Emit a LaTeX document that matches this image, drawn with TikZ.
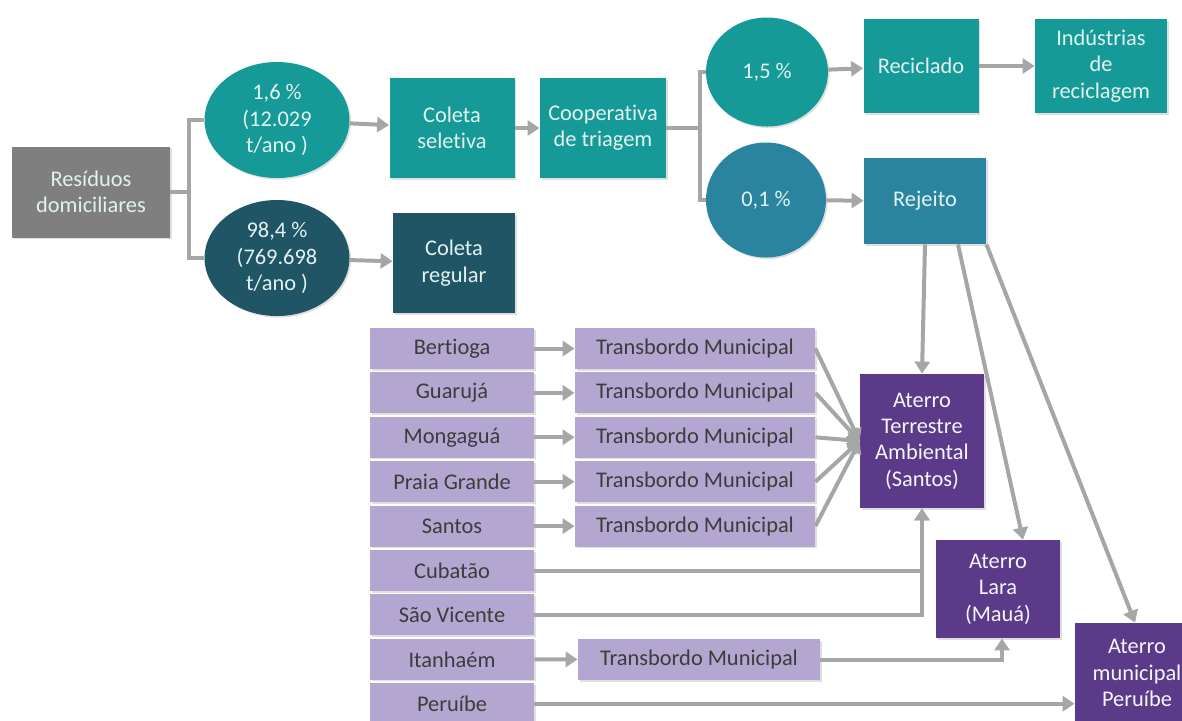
\documentclass[tikz,border=0pt]{standalone}
\usepackage{fontspec}
\setmainfont{Carlito}[Ligatures=NoCommon]
\usetikzlibrary{arrows.meta, shapes.geometric, shadows, calc}

\definecolor{cinza}{HTML}{7F7F7F}
\definecolor{verde}{HTML}{169A97}
\definecolor{petroleo}{HTML}{1F5565}
\definecolor{azul}{HTML}{2A84A0}
\definecolor{lilas}{HTML}{B3A7D1}
\definecolor{roxo}{HTML}{5B3A8A}
\definecolor{cseta}{HTML}{A6A6A6}
\definecolor{claro}{HTML}{E2F2F1}
\definecolor{escuro}{HTML}{3C3C3C}

\begin{document}
\begin{tikzpicture}[x=0.5pt, y=-0.5pt,
    every node/.style={align=center, inner sep=1pt, font=\fontsize{11.2}{13.2}\selectfont},
    sombra/.style={drop shadow={shadow xshift=0.8pt, shadow yshift=-0.8pt, opacity=0.25}},
    bloco/.style={rectangle, sombra, text=claro},
    bolha/.style={ellipse, sombra, text=claro, minimum width=72.5pt, minimum height=58pt, inner sep=0pt},
    cidade/.style={rectangle, sombra, fill=lilas, text=escuro, minimum width=82pt, minimum height=20.5pt},
    aterro/.style={rectangle, sombra, fill=roxo, text=white!88!lilas, minimum width=62pt},
    liga/.style={draw=cseta, line width=2pt},
    seta/.style={liga, -{Triangle[length=6pt, width=7.5pt]}}]
  \clip (0,0) rectangle (1182,720);

  % coleta
  \node[bloco, fill=cinza, minimum width=79pt, minimum height=45.5pt] (res) at (91,192) {Resíduos\\domiciliares};
  \node[bolha, fill=verde] (p16) at (277,120) {1,6 \%\\(12.029\\t/ano )};
  \node[bolha, fill=petroleo] (p984) at (277,258) {98,4 \%\\(769.698\\t/ano )};
  \node[bloco, fill=verde, minimum width=62.5pt, minimum height=50pt] (colsel) at (452,128) {Coleta\\seletiva};
  \node[bloco, fill=petroleo, minimum width=61pt, minimum height=50pt] (colreg) at (454,263) {Coleta\\regular};
  \node[bloco, fill=verde, minimum width=63pt, minimum height=50pt] (coop) at (603,128) {Cooperativa\\de triagem};

  % triagem
  \node[bolha, fill=verde, minimum width=61pt, minimum height=54.5pt] (p15) at (767,72) {1,5 \%};
  \node[bolha, fill=azul, minimum width=60pt, minimum height=57.5pt] (p01) at (766,200) {0,1 \%};
  \node[bloco, fill=verde, minimum width=57.5pt, minimum height=47pt] (recic) at (921,66) {Reciclado};
  \node[bloco, fill=verde, minimum width=66pt, minimum height=47pt] (ind) at (1101,66) {Indústrias\\de\\reciclagem};
  \node[bloco, fill=azul, minimum width=61pt, minimum height=43pt] (rej) at (925,201) {Rejeito};

  % destino final
  \node[aterro, minimum height=67pt] (ata) at (922,441) {Aterro\\Terrestre\\Ambiental\\(Santos)};
  \node[aterro, minimum height=49pt] (lara) at (998,589) {Aterro\\Lara\\(Mauá)};
  \node[aterro, minimum height=50pt] (aperu) at (1137,673) {Aterro\\municipal\\Peruíbe};

  % municipios
  \foreach \i/\nome in {1/Bertioga, 2/Guarujá, 3/Mongaguá, 4/Praia Grande, 5/Santos,
                        6/Cubatão, 7/São Vicente, 8/Itanhaém, 9/Peruíbe} {
    \node[cidade] (cid\i) at (452,{348.5+44.4*(\i-1)}) {\nome};
  }
  \foreach \i in {1,...,5} {
    \node[cidade, minimum width=120pt] (tb\i) at (695,{348.5+44.4*(\i-1)}) {Transbordo Municipal};
    \draw[seta] (cid\i) -- (tb\i);
    \draw[seta] (tb\i.east) -- (ata.west);
  }
  \node[cidade, minimum width=121pt] (tb8) at (699,659.5) {Transbordo Municipal};

  % ligacoes
  \coordinate (garfo1) at (189,192);
  \draw[liga] (res.east) -- (garfo1);
  \draw[liga] (garfo1) |- (p16.west);
  \draw[liga] (garfo1) |- (p984.west);
  \draw[seta] (p16) -- (colsel);
  \draw[seta] (p984) -- (colreg);
  \draw[seta] (colsel) -- (coop);

  \coordinate (garfo2) at (700,128);
  \draw[liga] (coop.east) -- (garfo2);
  \draw[liga] (garfo2) |- (p15.west);
  \draw[liga] (garfo2) |- (p01.west);
  \draw[seta] (p15) -- (recic);
  \draw[seta] (p01) -- (rej);
  \draw[seta] (recic) -- (ind);

  \draw[seta] (rej.south) -- (ata.north);
  \draw[seta] ($(rej.south)+(33,0)$) -- ($(lara.north)+(25,0)$);
  \draw[seta] (rej.south east) -- ($(aperu.north)+(-2,0)$);

  \draw[seta] (cid6.east) -| (ata.south);
  \draw[seta] (cid7.east) -| (ata.south);
  \draw[seta] (cid8) -- (tb8);
  \draw[seta] (tb8.east) -| ($(lara.south)+(4,0)$);
  \draw[seta] (cid9.east) -- (cid9.east -| aperu.west);
\end{tikzpicture}
\end{document}
